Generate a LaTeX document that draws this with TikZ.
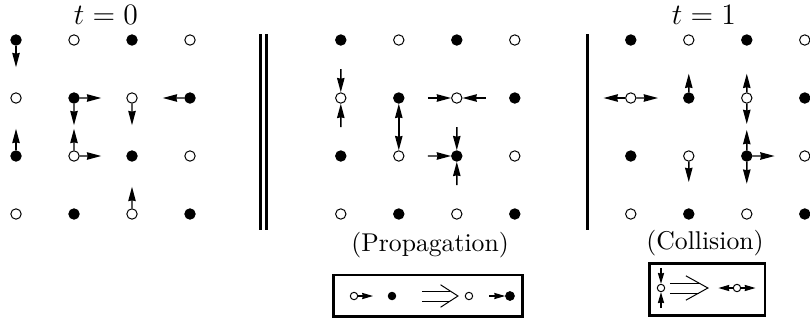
\documentclass[tikz,border=0pt]{standalone}
\usetikzlibrary{arrows.meta,calc}

\tikzset{
  site/.style={circle, draw, fill=#1, line width=0.4pt, inner sep=0pt, minimum size=4.2pt},
  smallsite/.style={site=#1, minimum size=3pt},
  arr/.style={line width=0.6pt, -{Stealth[length=5.8pt, width=3pt, inset=0.3pt]}},
  sarr/.style={line width=0.5pt, -{Stealth[length=4.4pt, width=2.5pt, inset=0.3pt]}},
  wall/.style={line width=1.2pt},
  frame/.style={line width=1.2pt},
}

\begin{document}
\begin{tikzpicture}[x=0.825cm, y=0.825cm]
        \useasboundingbox (-0.276, -1.828) rectangle (13.690, 3.690);
        % the three lattices
        \foreach \i in {0,...,3} {
          \foreach \j in {0,...,3} {
            \pgfmathtruncatemacro\k{mod(\i+\j,2)}
            \ifnum\k=1 \def\col{black}\else\def\col{white}\fi
            \node[site=\col] (L\i\j) at (\i, \j) {};
            \node[site=\col] (M\i\j) at (\i+5.6, \j) {};
            \node[site=\col] (R\i\j) at (\i+10.6, \j) {};
          }
        }
        \node[anchor=base] (t0) at (1.55, 3.26) {\fontsize{12.5}{15}\selectfont $t=0$};
        \node[anchor=base] (t1) at (11.86, 3.26) {\fontsize{12.5}{15}\selectfont $t=1$};
        \node[anchor=base] (prop) at (7.14, -0.655) {\fontsize{10.4}{12}\selectfont (Propagation)};
        \node[anchor=base] (coll) at (11.88, -0.62) {\fontsize{10.4}{12}\selectfont (Collision)};
        % separators
        \draw[wall, double, double distance=1.2pt] (4.267, 3.103) -- (4.267, -0.276);
        \draw[wall] (9.862, 3.103) -- (9.862, -0.276);
        % t = 0
        \draw[arr] (L03) -- ($(L03)!0.47!(L02)$);
        \draw[arr] (L12) -- ($(L12)!0.47!(L22)$);
        \draw[arr] (L12) -- ($(L12)!0.47!(L11)$);
        \draw[arr] (L22) -- ($(L22)!0.47!(L21)$);
        \draw[arr] (L32) -- ($(L32)!0.47!(L22)$);
        \draw[arr] (L01) -- ($(L01)!0.47!(L02)$);
        \draw[arr] (L11) -- ($(L11)!0.47!(L12)$);
        \draw[arr] (L11) -- ($(L11)!0.47!(L21)$);
        \draw[arr] (L20) -- ($(L20)!0.47!(L21)$);
        % propagation
        \draw[arr] ($(M03)!0.5!(M02)$) -- (M02);
        \draw[arr] ($(M01)!0.5!(M02)$) -- (M02);
        \draw[arr] ($(M11)!0.5!(M12)$) -- (M12);
        \draw[arr] ($(M12)!0.5!(M11)$) -- (M11);
        \draw[arr] ($(M12)!0.5!(M22)$) -- (M22);
        \draw[arr] ($(M32)!0.5!(M22)$) -- (M22);
        \draw[arr] ($(M22)!0.5!(M21)$) -- (M21);
        \draw[arr] ($(M11)!0.5!(M21)$) -- (M21);
        \draw[arr] ($(M20)!0.5!(M21)$) -- (M21);
        % t = 1
        \draw[arr] (R02) -- ($(R02)!-0.47!(R12)$);
        \draw[arr] (R02) -- ($(R02)!0.47!(R12)$);
        \draw[arr] (R12) -- ($(R12)!0.42!(R13)$);
        \draw[arr] (R22) -- ($(R22)!0.42!(R23)$);
        \draw[arr] (R22) -- ($(R22)!0.45!(R21)$);
        \draw[arr] (R21) -- ($(R21)!0.45!(R22)$);
        \draw[arr] (R21) -- ($(R21)!0.48!(R20)$);
        \draw[arr] (R21) -- ($(R21)!0.48!(R31)$);
        \draw[arr] (R11) -- ($(R11)!0.45!(R10)$);
        % rule boxes
        \draw[frame] (5.474, -1.052) rectangle (8.733, -1.759);
        \node[smallsite=white] (p1) at (5.828, -1.414) {};
        \node[smallsite=black] (p2) at (6.483, -1.414) {};
        \node[smallsite=white] (p3) at (7.810, -1.414) {};
        \node[smallsite=black, minimum size=3.5pt] (p4) at (8.517, -1.414) {};
        \draw[sarr] (p1) -- ($(p1)!0.5!(p2)$);
        \draw[sarr] ($(p3)!0.5!(p4)$) -- (p4);
        \draw[thin] (7.0, -1.328) -- (7.487, -1.328);
        \draw[thin] (7.0, -1.5) -- (7.487, -1.5);
        \draw[thin] (7.32, -1.22) -- (7.62, -1.414) -- (7.32, -1.608);
        \draw[frame] (10.922, -0.853) rectangle (12.914, -1.750);
        \node[smallsite=white] (c1) at (11.121, -1.276) {};
        \node[smallsite=white] (c2) at (12.431, -1.276) {};
        \draw[sarr] ($(c1)+(0, 0.345)$) -- (c1);
        \draw[sarr] ($(c1)+(0, -0.345)$) -- (c1);
        \draw[sarr] (c2) -- ++(-0.32, 0);
        \draw[sarr] (c2) -- ++(0.32, 0);
        \draw[thin] (11.276, -1.19) -- (11.774, -1.19);
        \draw[thin] (11.276, -1.362) -- (11.774, -1.362);
        \draw[thin] (11.55, -1.066) -- (11.93, -1.276) -- (11.55, -1.486);
\end{tikzpicture}
\end{document}
